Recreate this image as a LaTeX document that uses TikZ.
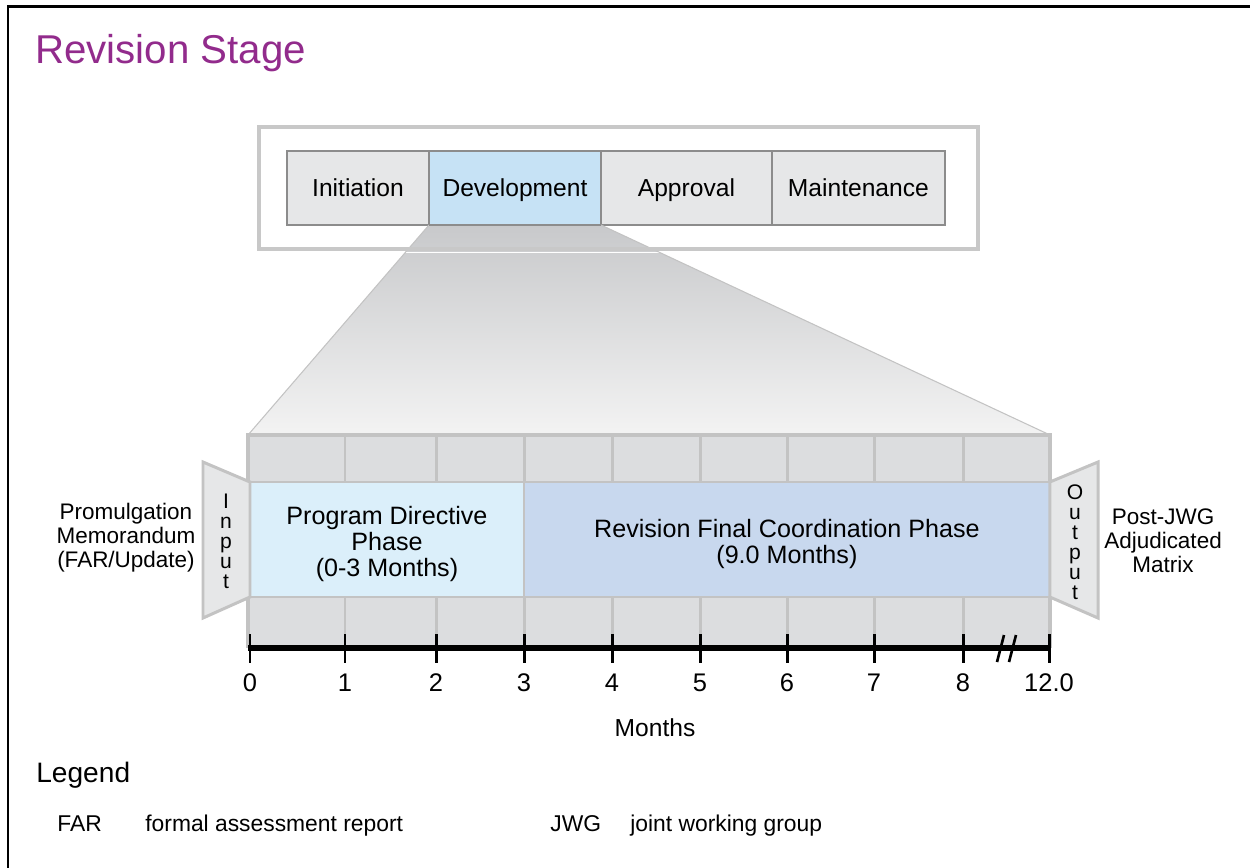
\documentclass[tikz,border=0pt]{standalone}
\usepackage{fontspec}
\setmainfont{Liberation Sans}
\usetikzlibrary{positioning}

\definecolor{titlepurple}{RGB}{146,43,140}
\definecolor{stagefill}{HTML}{E6E7E8}
\definecolor{stageline}{HTML}{8C8C8C}
\definecolor{devblue}{HTML}{C6E2F5}
\definecolor{outerline}{HTML}{C8C8C8}
\definecolor{gridfill}{HTML}{DCDDDF}
\definecolor{gridline}{HTML}{C3C3C3}
\definecolor{pdblue}{HTML}{DBEFFA}
\definecolor{revblue}{HTML}{C8D8EE}
\definecolor{funneltop}{HTML}{C8C9CB}
\definecolor{funnelbot}{HTML}{F3F3F3}

\tikzset{
  stagebox/.style={draw=stageline, line width=1pt, fill=stagefill, outer sep=0pt,
    minimum height=1.48cm, inner sep=0pt, text height=2.1ex, text depth=0.26ex,
    font=\fontsize{14}{16}\selectfont},
  phasebox/.style={draw=gridline, line width=1.2pt, outer sep=0pt, inner sep=0pt,
    minimum height=2.3cm},
  phasetext/.style={align=center, yshift=-2.6pt, font=\fontsize{14.3}{14.8}\selectfont},
  iobox/.style={draw=gridline, line width=1.7pt, fill=stagefill, line join=miter},
  sidelabel/.style={align=center, font=\fontsize{12.8}{13.7}\selectfont},
  letters/.style={align=center, font=\fontsize{12}{11.4}\selectfont},
  ticklabel/.style={anchor=base, font=\fontsize{14.5}{16}\selectfont},
  legendtext/.style={anchor=base west, inner sep=0pt, font=\fontsize{13}{15}\selectfont}
}

\begin{document}
\begin{tikzpicture}[x=0.02cm, y=-0.02cm]
\useasboundingbox (0,0) rectangle (1250,867);
\fill[white] (0,0) rectangle (1250,867);
% frame
\draw[line width=1.7pt] (8,880) -- (8,6) -- (1260,6);
\node[anchor=base west, text=titlepurple, font=\fontsize{22.9}{26}\selectfont, inner sep=0pt] (title) at (35,63) {Revision Stage};

% life cycle stages
\node[stagebox, minimum width=2.84cm] (init) at (358,188) {Initiation};
\node[stagebox, minimum width=3.44cm, fill=devblue, right=0pt of init] (dev) {Development};
\node[stagebox, minimum width=3.42cm, right=0pt of dev] (appr) {Approval};
\node[stagebox, minimum width=3.46cm, right=0pt of appr] (maint) {Maintenance};

% zoom funnel
\coordinate (gridnw) at (248,435);
\coordinate (gridne) at (1050,435);
\shade[top color=funneltop, bottom color=funnelbot] (dev.south west) -- (dev.south east) -- (gridne) -- (gridnw) -- cycle;
\begin{scope}
\clip (dev.south west) -- (dev.south east) -- (gridne) -- (gridnw) -- cycle;
\draw[white, line width=1.1pt] (250,252.5) -- (1050,252.5);
\end{scope}
\draw[gridline, line width=0.6pt] (dev.south west) -- (gridnw);
\draw[gridline, line width=0.6pt] (dev.south east) -- (gridne);
\draw[outerline, line width=2.2pt] (259,127) rectangle (978,249);
\draw[stageline, line width=1pt] (dev.south west) -- (dev.south east);

% month grid
\fill[gridfill] (248,435) rectangle (1050,648);
\foreach \x in {345,436,524,612,700,787,874,963}
  \draw[gridline, line width=1.7pt] (\x,435) -- (\x,648);
\draw[gridline, line width=2pt] (248,648) -- (248,435) -- (1050,435) -- (1050,648);

% phases
\node[phasebox, fill=pdblue, minimum width=5.48cm, anchor=north west] (pd) at (250,482) {};
\node[phasebox, fill=revblue, minimum width=10.52cm, anchor=north west] (rev) at (pd.north east) {};
\node[phasetext] (pdtext) at (pd.center) {Program Directive\\Phase\\(0-3 Months)};
\node[phasetext] (revtext) at (rev.center) {Revision Final Coordination Phase\\(9.0 Months)};

% input and output
\draw[iobox] (203,462) -- (pd.north west) -- (pd.south west) -- (203,618) -- cycle;
\node[letters] (inlbl) at (226,541) {I\\n\\p\\u\\t};
\draw[iobox] (1098,462) -- (rev.north east) -- (rev.south east) -- (1098,618) -- cycle;
\node[letters] (outlbl) at (1075,542) {O\\u\\t\\p\\u\\t};
\node[sidelabel] (inname) at (126,538) {Promulgation\\Memorandum\\(FAR/Update)};
\node[sidelabel] (outname) at (1163,541) {Post-JWG\\Adjudicated\\Matrix};

% time axis
\draw[line width=3.4pt] (248,648) -- (1051,648);
\foreach \x/\m in {250/0,345/1,436/2,524/3,612/4,700/5,787/6,874/7,963/8,1049/12.0} {
  \draw[line width=1.7pt] (\x,634) -- (\x,663);
  \node[ticklabel] (t\m) at (\x,691) {\m};
}
\draw[line width=1.5pt] (997,662) -- (1004,635);
\draw[line width=1.5pt] (1009,662) -- (1016,635);
\node[anchor=base, font=\fontsize{14}{16}\selectfont] (months) at (655,736) {Months};

% legend
\node[anchor=base west, font=\fontsize{16}{18}\selectfont, inner sep=0pt] (legend) at (36,782) {Legend};
\node[legendtext] (far) at (57,831) {FAR};
\node[legendtext] (fardef) at (145,831) {formal assessment report};
\node[legendtext] (jwg) at (550,831) {JWG};
\node[legendtext] (jwgdef) at (630,831) {joint working group};
\end{tikzpicture}
\end{document}
